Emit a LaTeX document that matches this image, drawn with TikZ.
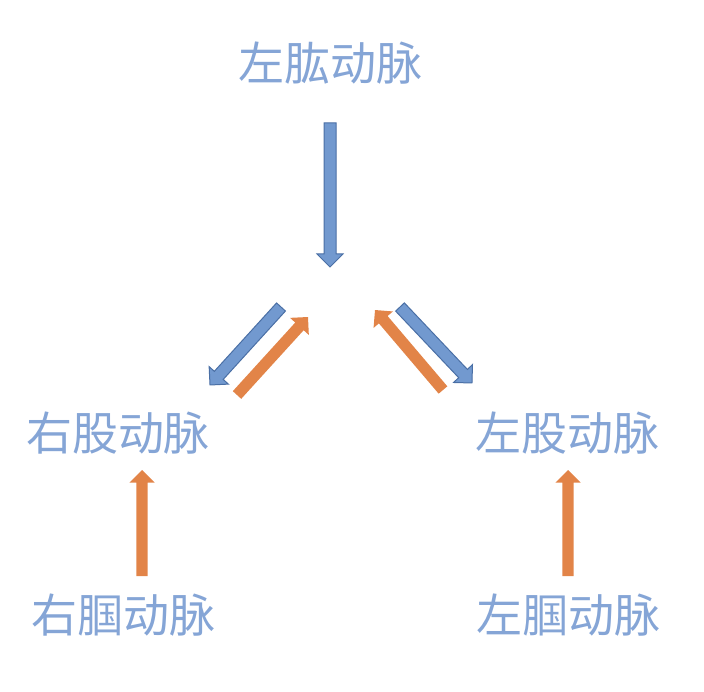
\documentclass[tikz,border=0pt]{standalone}
\usepackage{fontspec}
\newfontfamily\cjk{Noto Sans CJK SC}
\usetikzlibrary{shapes.arrows, calc}
\definecolor{TB}{RGB}{133,165,214}
\definecolor{AB}{RGB}{114,153,207}
\definecolor{DB}{RGB}{74,111,165}
\definecolor{AO}{RGB}{226,132,72}

% block arrow from #2 to #3 with style #1
\newcommand{\blockarrow}[3]{%
  \path let \p1=($(#3)-(#2)$), \n1={veclen(\x1,\y1)}, \n2={atan2(\y1,\x1)} in
    node[#1, minimum height=\n1, rotate=\n2, anchor=tail] at (#2) {};
}

\begin{document}
\begin{tikzpicture}[
  x=1pt, y=-1pt,
  lbl/.style={font=\cjk\fontsize{46}{50}\selectfont, text=TB, inner sep=0pt},
  arw/.style={single arrow, inner xsep=0pt, inner ysep=5.5pt, outer sep=0pt,
              single arrow head extend=7pt, single arrow tip angle=90},
  barw/.style={arw, draw=DB, fill=AB, line width=1pt},
  oarw/.style={arw, draw=none, fill=AO}
]
\useasboundingbox (0,0) rectangle (704,692);

% Labels
\node[lbl] (lbrach) at (330,63)  {左肱动脉};
\node[lbl] (rfem)   at (118,433) {右股动脉};
\node[lbl] (lfem)   at (567,433) {左股动脉};
\node[lbl] (rpop)   at (123,615) {右腘动脉};
\node[lbl] (lpop)   at (568,615) {左腘动脉};

% Arrow ends
\coordinate (d0) at (330,123);  \coordinate (d1) at (330,267);
\coordinate (bl0) at (281,307); \coordinate (bl1) at (210,385);
\coordinate (ol0) at (237,395); \coordinate (ol1) at (308,317);
\coordinate (br0) at (400,307); \coordinate (br1) at (472,383);
\coordinate (or0) at (443,390); \coordinate (or1) at (375,310);
\coordinate (ul0) at (142,576); \coordinate (ul1) at (142,470);
\coordinate (ur0) at (568,576); \coordinate (ur1) at (568,470);

% Arrows
\foreach \s/\a/\b in {barw/d0/d1, barw/bl0/bl1, barw/br0/br1,
                      oarw/ol0/ol1, oarw/or0/or1, oarw/ul0/ul1, oarw/ur0/ur1}
  {\blockarrow{\s}{\a}{\b}}
\end{tikzpicture}
\end{document}
